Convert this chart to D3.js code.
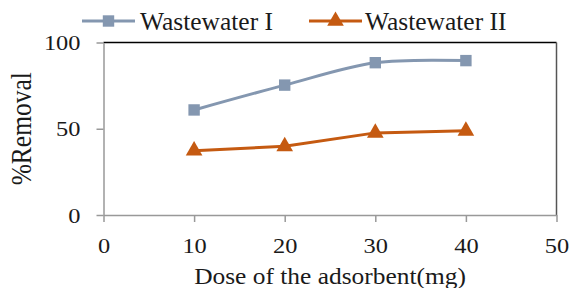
<!DOCTYPE html>
<html><head><meta charset="utf-8">
<script src="https://cdn.jsdelivr.net/npm/d3@7"></script>
<style>body{margin:0;background:#fff}svg{display:block}</style>
</head><body><svg id="c" width="572" height="288"></svg>
<script>
const doses = [10, 20, 30, 40];
const wastewaterI = [60.9, 75.3, 88.3, 89.5];
const wastewaterII = [37.3, 39.8, 47.6, 48.8];
const xTicks = [0, 10, 20, 30, 40, 50];
const yTicks = [0, 50, 100];
const seriesNames = ["Wastewater I", "Wastewater II"];
const colors = ["#8497B0", "#C55A11"];
const FONT = "Liberation Serif";
const TXT = "#1a1a1a";

const svg = d3.select("#c");
const x = d3.scaleLinear().domain([0, 50]).range([103.5, 556.5]);
const y = d3.scaleLinear().domain([0, 100]).range([215, 42.5]);

// place a text at (px,py) with anchor, stretched horizontally by sx
function stretchText(sel, sx) {
  sel.each(function () {
    const t = d3.select(this);
    const px = +t.attr("x") || 0, py = +t.attr("y") || 0;
    t.attr("transform", `translate(${px},${py}) scale(${sx},1)`).attr("x", 0).attr("y", 0);
  });
}

// frame top/right
svg.append("line").attr("x1", x(0)).attr("x2", x(50)).attr("y1", y(100)).attr("y2", y(100)).attr("stroke", "#000").attr("stroke-width", 1.3);
svg.append("line").attr("x1", x(50)).attr("x2", x(50)).attr("y1", y(100)).attr("y2", y(0)).attr("stroke", "#555").attr("stroke-width", 1.5);

// axes
const gx = svg.append("g").attr("transform", `translate(0,${y(0)})`)
  .call(d3.axisBottom(x).tickValues(xTicks).tickSize(7).tickSizeOuter(0).tickFormat(d3.format("d")));
const gy = svg.append("g").attr("transform", `translate(${x(0)},0)`)
  .call(d3.axisLeft(y).tickValues(yTicks).tickSize(7).tickSizeOuter(0).tickFormat(d3.format("d")));
[gx, gy].forEach(g => {
  g.attr("font-family", FONT).attr("font-size", 20);
  g.select(".domain").attr("stroke", "#999").attr("stroke-width", 1.5);
  g.selectAll(".tick line").attr("stroke", "#999").attr("stroke-width", 1.5);
  g.selectAll(".tick text").attr("font-size", 20).attr("font-family", FONT).attr("fill", TXT);
});
gx.selectAll(".tick text").attr("dy", null).attr("y", 38);
stretchText(gx.selectAll(".tick text"), 1.22);
gy.selectAll(".tick text").attr("x", -23).attr("y", 7).attr("dy", null);
stretchText(gy.selectAll(".tick text"), 1.22);

// axis titles
const xt = svg.append("text").attr("x", x(25)).attr("y", 284).attr("text-anchor", "middle").attr("font-size", 22.5).attr("font-family", FONT).attr("fill", TXT)
  .text("Dose of the adsorbent(mg)");
stretchText(xt, 1.13);
svg.append("text").attr("transform", `translate(31,${y(50)}) rotate(-90) scale(0.98,1.12)`).attr("text-anchor", "middle").attr("font-size", 26).attr("font-family", FONT).attr("fill", TXT)
  .text("%Removal");

// lines
const line1 = d3.line().x((d, i) => x(doses[i])).y(d => y(d)).curve(d3.curveCatmullRom.alpha(0.5));
const line2 = d3.line().x((d, i) => x(doses[i])).y(d => y(d));
svg.append("path").datum(wastewaterI).attr("d", line1).attr("fill", "none").attr("stroke", colors[0]).attr("stroke-width", 3);
svg.append("path").datum(wastewaterII).attr("d", line2).attr("fill", "none").attr("stroke", colors[1]).attr("stroke-width", 3);
const sq = d3.symbol().type(d3.symbolSquare).size(130);
const tri = d3.symbol().type(d3.symbolTriangle).size(120);
svg.selectAll(".m1").data(wastewaterI).join("path").attr("d", sq).attr("fill", colors[0])
  .attr("transform", (d, i) => `translate(${x(doses[i])},${y(d)})`);
svg.selectAll(".m2").data(wastewaterII).join("path").attr("d", tri).attr("fill", colors[1])
  .attr("transform", (d, i) => `translate(${x(doses[i])},${y(d)})`);

// legend
const leg = [{x1: 82, x2: 135, tx: 140}, {x1: 309, x2: 362, tx: 365}];
leg.forEach((l, k) => {
  svg.append("line").attr("x1", l.x1).attr("x2", l.x2).attr("y1", 21).attr("y2", 21).attr("stroke", colors[k]).attr("stroke-width", 3);
  svg.append("path").attr("d", k === 0 ? sq : tri).attr("fill", colors[k]).attr("transform", `translate(${(l.x1 + l.x2) / 2},21)`);
  const t = svg.append("text").attr("x", l.tx).attr("y", 30).attr("font-size", 24.5).attr("font-family", FONT).attr("fill", TXT)
    .text(seriesNames[k]);
  stretchText(t, 1.04);
});
</script></body></html>
